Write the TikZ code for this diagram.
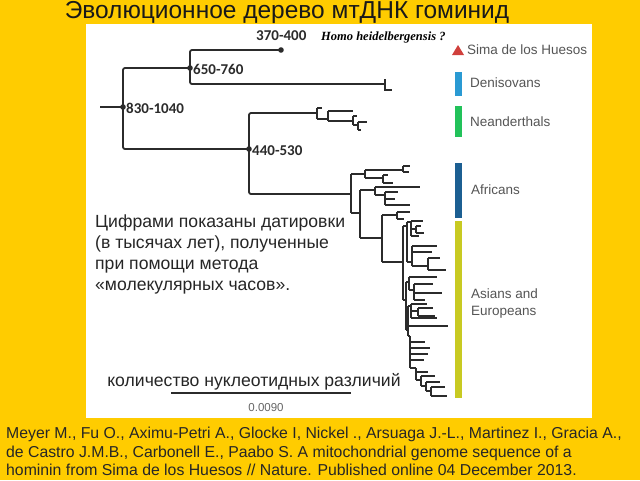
\documentclass[tikz,border=0pt]{standalone}
\usepackage{fontspec}
\setmainfont{Liberation Sans}
\newfontfamily\datefont{Carlito}
\newfontfamily\hhfont{Liberation Serif}

\definecolor{slideyellow}{HTML}{FFCC00}
\definecolor{treegray}{HTML}{2B2B2B}
\definecolor{leggray}{HTML}{555555}
\definecolor{denblue}{HTML}{2A9AD3}
\definecolor{neagreen}{HTML}{22C25A}
\definecolor{afrblue}{HTML}{1C5F92}
\definecolor{eurolive}{HTML}{C8CA22}
\definecolor{simared}{HTML}{D0403C}

\tikzset{
  branch/.style={draw=treegray, line width=1.8pt, rounded corners=2pt},
  twig/.style={draw=treegray, line width=1.4pt},
  datum/.style={font=\datefont\bfseries\fontsize{15}{17}\selectfont, text=treegray, anchor=west, inner sep=1pt},
  legend/.style={font=\fontsize{13.5}{15}\selectfont, text=leggray, anchor=west, inner sep=0pt, align=left},
  russian/.style={font=\fontsize{17.6}{21}\selectfont, text=black!85, inner sep=0pt, align=left},
}

\begin{document}
\begin{tikzpicture}[x=1pt, y=-1pt]
  \useasboundingbox (0,0) rectangle (640,480);
  \fill[slideyellow] (0,0) rectangle (640,480);
  \fill[white] (86,24) rectangle (592,418);

  % title
  \node[font=\fontsize{24.5}{28}\selectfont, text=black!90] (title) at (287,12) {Эволюционное дерево мтДНК гоминид};

  % main tree
  \coordinate (root) at (100,107);
  \coordinate (n1) at (123,107);
  \coordinate (n2) at (190,68);
  \coordinate (n3) at (249,149);
  \coordinate (hh) at (281,50);
  \coordinate (den) at (385,84);
  \coordinate (nea) at (317,113);
  \coordinate (mod) at (351,194);

  \draw[branch, line width=2.6pt] (root) -- (n1);
  \draw[branch] (n2) -| (n1) |- (n3);
  \draw[branch] (hh) -| (n2) |- (den);
  \draw[branch] (nea) -| (n3) |- (mod);
  \foreach \p in {n1, n2, n3, hh}
    \fill[treegray] (\p) circle (2.8);

  \node[datum] (d1) at (125,108) {830-1040};
  \node[datum] (d2) at (192,69) {650-760};
  \node[datum] (d3) at (251,151) {440-530};
  \node[datum] (d4) at (255,36) {370-400};
  \node[font=\hhfont\bfseries\itshape\fontsize{12.5}{14}\selectfont, anchor=west, inner sep=0pt] (heid) at (321,37) {Homo heidelbergensis ?};

  % denisovan tip
  \draw[twig] (385,79) -- (385,90) -- (392,90);
  % neanderthal clade
  \foreach \x/\ya/\yb in {317/108/119, 328/111/121, 353/116/125, 358/122/130}
    \draw[twig] (\x,\ya) -- (\x,\yb);
  \foreach \y/\xa/\xb in {108/317/322, 119/317/328, 111/328/353, 121/328/353, 116/353/357, 125/353/358, 122/358/367, 130/358/361}
    \draw[twig] (\xa,\y) -- (\xb,\y);

  % modern humans: vertical links
  \foreach \x/\ya/\yb in {351/174/213, 365/170/178, 403/166/172, 383/175/183,
      360/190/238, 375/187/195, 385/192/205, 382/215/262, 397/212/219,
      403/226/300, 407/222/262, 411/221/236, 416/226/233, 412/246/266, 428/258/270,
      406/282/330, 409/277/290, 414/284/300, 408/306/336, 411/304/318, 418/308/316,
      410/336/368, 416/368/380, 421/376/386, 426/382/391, 431/387/396}
    \draw[twig] (\x,\ya) -- (\x,\yb);
  % modern humans: horizontal branches
  \foreach \y/\xa/\xb in {174/351/365, 213/351/360, 170/365/403, 178/365/383,
      166/403/410, 172/403/409, 175/383/388, 183/383/393,
      190/360/375, 238/360/382, 187/375/420, 195/375/385,
      192/385/398, 199/385/395, 205/385/410, 215/382/397, 262/382/403,
      212/397/410, 219/397/404, 226/403/407, 300/403/406,
      222/407/411, 262/407/412, 221/411/423, 229/411/416, 236/411/419,
      226/416/421, 233/416/424, 246/412/437, 252/412/432, 266/412/428,
      258/428/440, 270/428/446, 282/406/409, 330/406/408,
      277/409/437, 290/409/414, 284/414/433, 293/414/442, 300/414/425,
      306/408/411, 336/408/410, 304/411/427, 311/411/418, 318/411/437,
      308/418/433, 316/418/435, 326/408/448,
      342/410/425, 348/410/430, 354/410/428, 360/410/424, 368/410/416,
      372/416/428, 380/416/421, 376/421/435, 386/421/426,
      382/426/440, 391/426/431, 387/431/445, 396/431/447}
    \draw[twig] (\xa,\y) -- (\xb,\y);

  % legend
  \fill[simared] (452,55) -- (458,45) -- (464,55) -- cycle;
  \node[legend] (sima) at (467,50) {Sima de los Huesos};
  \fill[denblue] (455,72) rectangle (462,96);
  \node[legend] (deni) at (470,83) {Denisovans};
  \fill[neagreen] (455,106) rectangle (462,137);
  \node[legend] (nean) at (470,122) {Neanderthals};
  \fill[afrblue] (455,163) rectangle (462,218);
  \node[legend] (afr) at (471,190) {Africans};
  \fill[eurolive] (455,221) rectangle (462,398);
  \node[legend, font=\fontsize{13.5}{17}\selectfont] (eur) at (471,304) {Asians and\\Europeans};

  % note
  \node[russian, anchor=north west] (note) at (95,215)
    {Цифрами показаны датировки\\(в тысячах лет), полученные\\при помощи метода\\«молекулярных часов».};

  % scale
  \node[russian] (axis) at (254,382) {количество нуклеотидных различий};
  \coordinate (sa) at (171,393);
  \coordinate (sb) at (351,393);
  \draw[treegray, line width=1.6pt] (sa) -- (sb);
  \node[font=\fontsize{11.5}{13}\selectfont, text=black!60] (scale) at (266,408) {0.0090};

  % reference
  \node[font=\fontsize{15.8}{18.5}\selectfont, text=black!85, anchor=north west, align=left, inner sep=0pt] (cite) at (6,427)
    {Meyer M., Fu O., Aximu-Petri A., Glocke I, Nickel ., Arsuaga J.-L., Martinez I., Gracia A.,\\
     de Castro J.M.B., Carbonell E., Paabo S. A mitochondrial genome sequence of a\\
     hominin from Sima de los Huesos // Nature. Published online 04 December 2013.};
\end{tikzpicture}
\end{document}
